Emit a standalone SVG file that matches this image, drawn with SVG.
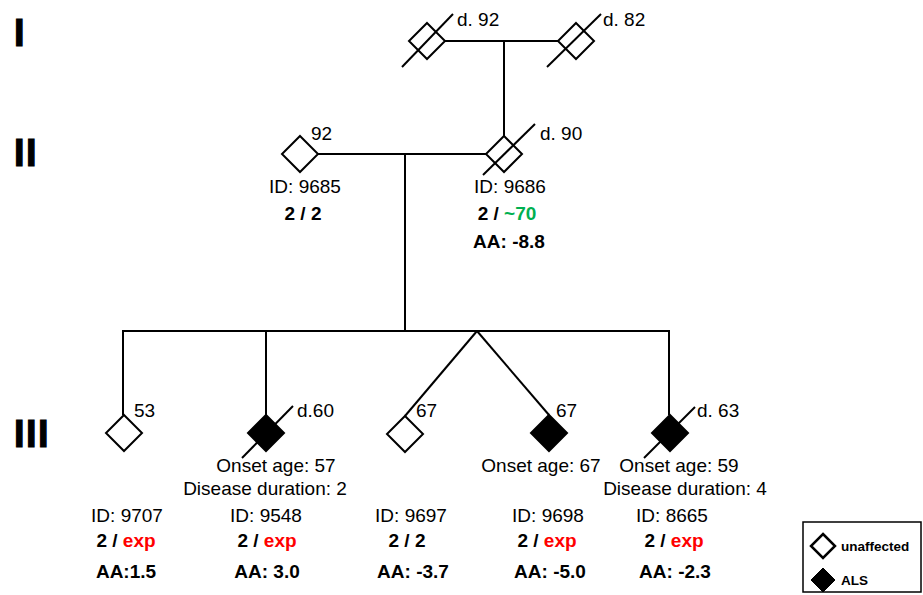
<svg xmlns="http://www.w3.org/2000/svg" width="923" height="595" viewBox="0 0 923 595">
<style>
.ln{stroke:#000;stroke-width:2;fill:none}
.d{stroke:#000;stroke-width:2;fill:#fff}
.f{stroke:#000;stroke-width:2;fill:#000}
text{font-family:"Liberation Sans",Arial,sans-serif;font-size:19px;fill:#000}
.c{text-anchor:middle}
.b{font-weight:bold}
.r{fill:#ff0000}
.g{fill:#00b050}
.gen{font-size:38px;font-weight:bold;stroke:#000;stroke-width:1.2;letter-spacing:1.5px}
.lg{font-size:13.5px;font-weight:bold}
</style>
<rect width="923" height="595" fill="#fff"/>
<g id="generations">
<text class="gen" x="14" y="46">I</text>
<text class="gen" x="14" y="166">II</text>
<text class="gen" x="14" y="447">III</text>
</g>
<g id="connectors">
<line class="ln" x1="445" y1="41" x2="558" y2="41"/>
<line class="ln" x1="504" y1="41" x2="504" y2="136"/>
<line class="ln" x1="318" y1="154" x2="486" y2="154"/>
<line class="ln" x1="405" y1="154" x2="405" y2="331"/>
<line class="ln" x1="122" y1="331" x2="670" y2="331"/>
<line class="ln" x1="123" y1="330" x2="123" y2="415"/>
<line class="ln" x1="266" y1="330" x2="266" y2="415"/>
<line class="ln" x1="477" y1="331" x2="405" y2="416"/>
<line class="ln" x1="477" y1="331" x2="549" y2="415"/>
<line class="ln" x1="669" y1="330" x2="669" y2="415"/>
</g>
<g id="I-1">
<polygon class="d" points="427,23 445,41 427,59 409,41"/>
<line class="ln" x1="402" y1="67" x2="453" y2="14"/>
<text x="457" y="26">d. 92</text>
</g>
<g id="I-2">
<polygon class="d" points="576,23 594,41 576,59 558,41"/>
<line class="ln" x1="547" y1="67" x2="601" y2="14"/>
<text x="603" y="26">d. 82</text>
</g>
<g id="II-1">
<polygon class="d" points="300,136 318,154 300,172 282,154"/>
<text x="311" y="140">92</text>
<text class="c" x="305" y="193">ID: 9685</text>
<text class="c b" x="303" y="220">2 / 2</text>
</g>
<g id="II-2">
<polygon class="d" points="504,136 522,154 504,172 486,154"/>
<line class="ln" x1="483" y1="175" x2="535" y2="124"/>
<text x="540" y="140">d. 90</text>
<text class="c" x="510" y="193">ID: 9686</text>
<text class="c b" x="507" y="220">2 / <tspan class="g">~70</tspan></text>
<text class="c b" x="509" y="248">AA: -8.8</text>
</g>
<g id="III-1">
<polygon class="d" points="124,415 142,433 124,451 106,433"/>
<text x="134" y="417">53</text>
<text class="c" x="127" y="522">ID: 9707</text>
<text class="c b" x="126" y="547">2 / <tspan class="r">exp</tspan></text>
<text class="c b" x="126" y="578">AA:1.5</text>
</g>
<g id="III-2">
<polygon class="f" points="266,415 284,433 266,451 248,433"/>
<line class="ln" x1="242" y1="458" x2="293" y2="406"/>
<text x="297" y="417">d.60</text>
<text class="c" x="276" y="472">Onset age: 57</text>
<text class="c" x="265" y="495">Disease duration: 2</text>
<text class="c" x="266" y="522">ID: 9548</text>
<text class="c b" x="267" y="547">2 / <tspan class="r">exp</tspan></text>
<text class="c b" x="267" y="578">AA: 3.0</text>
</g>
<g id="III-3">
<polygon class="d" points="405,416 423,434 405,452 387,434"/>
<text x="416" y="417">67</text>
<text class="c" x="411" y="522">ID: 9697</text>
<text class="c b" x="407" y="547">2 / 2</text>
<text class="c b" x="413" y="578">AA: -3.7</text>
</g>
<g id="III-4">
<polygon class="f" points="549,415 567,433 549,451 531,433"/>
<text x="556" y="417">67</text>
<text class="c" x="541" y="472">Onset age: 67</text>
<text class="c" x="548" y="522">ID: 9698</text>
<text class="c b" x="547" y="547">2 / <tspan class="r">exp</tspan></text>
<text class="c b" x="550" y="578">AA: -5.0</text>
</g>
<g id="III-5">
<polygon class="f" points="670,415 688,433 670,451 652,433"/>
<line class="ln" x1="644" y1="458" x2="695" y2="407"/>
<text x="697" y="417">d. 63</text>
<text class="c" x="679" y="472">Onset age: 59</text>
<text class="c" x="685" y="495">Disease duration: 4</text>
<text class="c" x="672" y="522">ID: 8665</text>
<text class="c b" x="674" y="547">2 / <tspan class="r">exp</tspan></text>
<text class="c b" x="675" y="578">AA: -2.3</text>
</g>
<g id="legend">
<rect x="803" y="522" width="118" height="70" fill="#fff" stroke="#000" stroke-width="1.5"/>
<polygon points="823,534 835,546 823,558 811,546" fill="#fff" stroke="#000" stroke-width="2.5"/>
<text class="lg" x="841" y="551">unaffected</text>
<polygon points="823,568 835,580 823,592 811,580" fill="#000" stroke="#000" stroke-width="1"/>
<text class="lg" x="841" y="585">ALS</text>
</g>
</svg>
